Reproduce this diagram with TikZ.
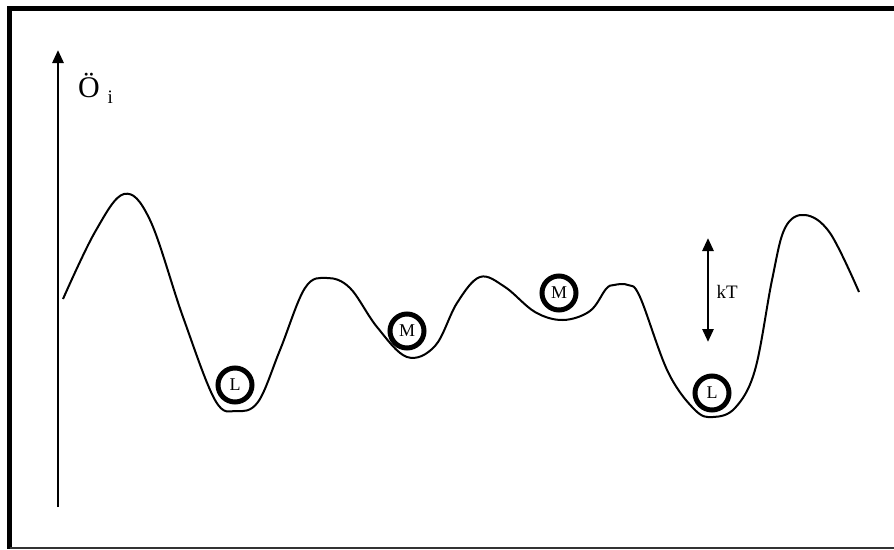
\documentclass[tikz,border=0pt]{standalone}
\usepackage{fontspec}
\setmainfont{Liberation Serif}
\usetikzlibrary{arrows.meta}

\tikzset{
  ball/.style={draw, circle, line width=5pt, minimum size=34pt, inner sep=0pt, font=\fontsize{18}{18}\selectfont},
  landscape/.style={line width=2pt, line join=round},
}

\begin{document}
\begin{tikzpicture}[x=1pt, y=-1pt, >={Triangle[length=13pt,width=11pt]}]
\useasboundingbox (0,0) rectangle (894,549);

% frame
\draw[line width=5pt] (894,8) -- (9.5,8) -- (9.5,549);
\draw[line width=1.5pt, black!80] (9.5,548) -- (894,548);

% axis
\coordinate (ybot) at (58,507);
\coordinate (ytop) at (58,50);
\draw[->, line width=2.8pt] (ybot) -- (ytop);
\node[font=\fontsize{30}{30}\selectfont] (phi) at (89,85) {Ö};
\node[font=\fontsize{19}{19}\selectfont, anchor=west] at (104,97) {i};

% energy landscape
\draw[landscape] plot[smooth, tension=0.6] coordinates {
  (63,299) (95,232) (124,194) (150,220) (183,317) (215,400)
  (236,411) (258,402) (280,350) (305,288) (327,278) (350,288)
  (377,327) (407,357) (435,346) (457,303) (480,277) (505,287)
  (535,312) (563,320) (590,311) (606,289) (614,285) (628,285)
  (640,297) (668,372) (695,410) (713,417) (735,408) (755,370)
  (772,280) (785,228) (805,215) (830,233) (859,292)};

% particles
\node[ball] (L1) at (235,385) {L};
\node[ball] (M1) at (407,331) {M};
\node[ball] (M2) at (559,293) {M};
\node[ball] (L2) at (712,393) {L};

% thermal energy
\coordinate (kTtop) at (708,238);
\coordinate (kTbot) at (708,342);
\draw[<->, line width=2.8pt] (kTbot) -- (kTtop);
\node[font=\fontsize{19}{19}\selectfont, anchor=west] (kT) at (713,292) {kT};
\end{tikzpicture}
\end{document}
